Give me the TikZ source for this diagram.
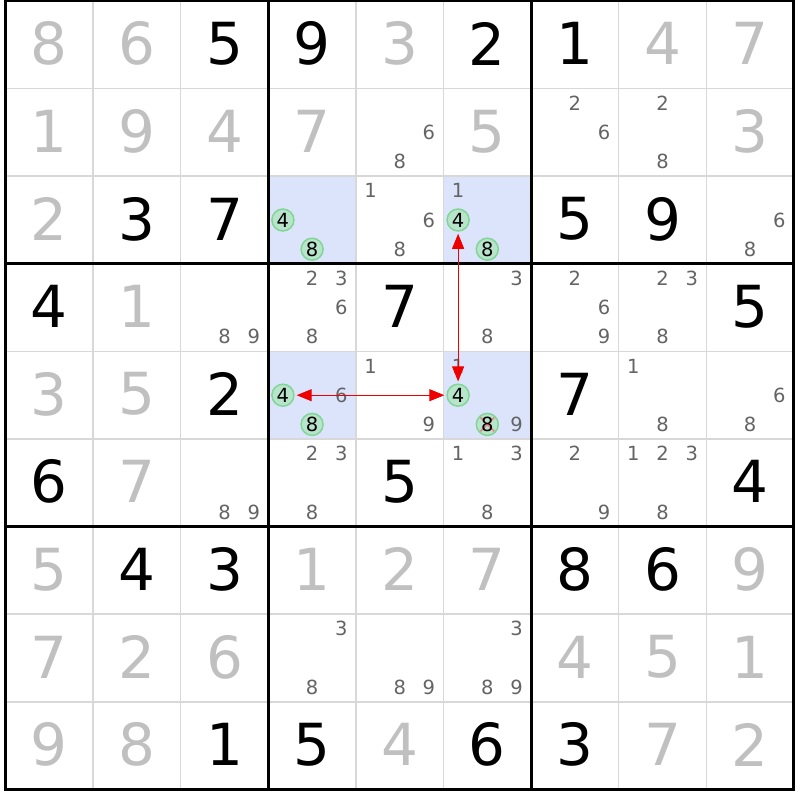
\documentclass[tikz,border=0pt]{standalone}
\usepackage{fontspec}
\setmainfont{DejaVu Sans}
\usetikzlibrary{arrows.meta}
\definecolor{solvedc}{RGB}{192,192,192}
\definecolor{candc}{RGB}{100,100,100}
\definecolor{thinc}{RGB}{216,216,216}
\definecolor{hlc}{RGB}{220,228,252}
\definecolor{circfill}{RGB}{184,228,204}
\definecolor{circdraw}{RGB}{128,214,146}
\definecolor{arrowc}{RGB}{238,0,0}
\definecolor{crossc}{RGB}{240,120,120}
\tikzset{
  big/.style={inner sep=0pt, font=\fontsize{58}{58}\selectfont},
  given/.style={big, text=black},
  solved/.style={big, text=solvedc},
  cand/.style={inner sep=0pt, font=\fontsize{19.5}{19.5}\selectfont, text=candc},
  circ/.style={circle, draw=circdraw, fill=circfill, line width=1.5pt, minimum size=22pt, inner sep=0pt, font=\fontsize{19.5}{19.5}\selectfont, text=black},
  crossed/.style={path picture={\draw[crossc, line width=1.6pt, opacity=0.85]
      ([shift={(-7pt,-7pt)}]path picture bounding box.center) -- ([shift={(7pt,7pt)}]path picture bounding box.center)
      ([shift={(-7pt,7pt)}]path picture bounding box.center) -- ([shift={(7pt,-7pt)}]path picture bounding box.center);}},
  thingrid/.style={thinc, line width=1.5pt},
  thickgrid/.style={black, line width=3pt},
  link/.style={arrowc, line width=0.9pt, {Triangle[length=15pt,width=12pt]}-{Triangle[length=15pt,width=12pt]}, shorten <=2pt, shorten >=2pt},
}
\begin{document}
\begin{tikzpicture}[x=1pt,y=-1pt]
\useasboundingbox (0,0) rectangle (800,800);
\fill[white] (0,0) rectangle (800,800);
% highlighted cells
\foreach \r/\c in {3/4,3/6,5/4,5/6}
  \fill[hlc] ({5.5+87.6*(\c-1)},{1+87.6*(\r-1)}) rectangle +(87.6,87.6);
% thin grid
\foreach \i in {1,2,4,5,7,8} {
  \draw[thingrid] ({5.5+87.6*\i},1) -- ({5.5+87.6*\i},789.4);
  \draw[thingrid] (5.5,{1+87.6*\i}) -- (793.9,{1+87.6*\i});
}
% thick grid
\foreach \i in {0,3,6,9} {
  \draw[thickgrid] ({5.5+87.6*\i},-0.5) -- ({5.5+87.6*\i},790.9);
  \draw[thickgrid] (4,{1+87.6*\i}) -- (795.4,{1+87.6*\i});
}
% given digits
\foreach \r/\c/\d in {1/3/5,1/4/9,1/6/2,1/7/1,3/2/3,3/3/7,3/7/5,3/8/9,4/1/4,4/5/7,4/9/5,5/3/2,5/7/7,6/1/6,6/5/5,6/9/4,7/2/4,7/3/3,7/7/8,7/8/6,9/3/1,9/4/5,9/6/6,9/7/3}
  \node[given] (g-\r-\c) at ({5.5+87.6*(\c-0.5)},{87.6*(\r-0.5)}) {\d};
% solved digits
\foreach \r/\c/\d in {1/1/8,1/2/6,1/5/3,1/8/4,1/9/7,2/1/1,2/2/9,2/3/4,2/4/7,2/6/5,2/9/3,3/1/2,4/2/1,5/1/3,5/2/5,6/2/7,7/1/5,7/4/1,7/5/2,7/6/7,7/9/9,8/1/7,8/2/2,8/3/6,8/7/4,8/8/5,8/9/1,9/1/9,9/2/8,9/5/4,9/8/7,9/9/2}
  \node[solved] (s-\r-\c) at ({5.5+87.6*(\c-0.5)},{87.6*(\r-0.5)}) {\d};
% candidates
\foreach \r/\c/\ds in {2/5/{6,8},2/7/{2,6},2/8/{2,8},3/5/{1,6,8},3/6/{1},3/9/{6,8},4/3/{8,9},4/4/{2,3,6,8},4/6/{3,8},4/7/{2,6,9},4/8/{2,3,8},5/4/{6},5/5/{1,9},5/6/{1,9},5/8/{1,8},5/9/{6,8},6/3/{8,9},6/4/{2,3,8},6/6/{1,3,8},6/7/{2,9},6/8/{1,2,3,8},8/4/{3,8},8/5/{8,9},8/6/{3,8,9}} {
  \foreach \d in \ds {
    \pgfmathtruncatemacro\ci{mod(\d-1,3)}
    \pgfmathtruncatemacro\cj{int((\d-1)/3)}
    \node[cand] (k-\r-\c-\d) at ({5.5+87.6*(\c-1)+14.6+29.2*\ci},{1+87.6*(\r-1)+14.6+29.2*\cj}) {\d};
  }
}
% circled candidates
\foreach \r/\c in {3/4,3/6,5/4} {
  \node[circ] (o-\r-\c-4) at ({5.5+87.6*(\c-1)+14.6},{1+87.6*(\r-1)+43.8}) {4};
  \node[circ] (o-\r-\c-8) at ({5.5+87.6*(\c-1)+43.8},{1+87.6*(\r-1)+73}) {8};
}
\node[circ] (o-5-6-4) at ({5.5+87.6*5+14.6},{1+87.6*4+43.8}) {4};
\node[circ, crossed] (o-5-6-8) at ({5.5+87.6*5+43.8},{1+87.6*4+73}) {8};
% links
\draw[link] (o-5-4-4) -- (o-5-6-4);
\draw[link] (o-5-6-4) -- (o-3-6-4);
\end{tikzpicture}
\end{document}
